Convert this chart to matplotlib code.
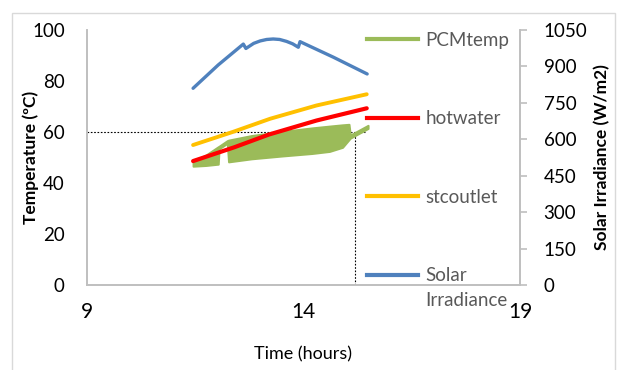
import matplotlib
matplotlib.use("Agg")
import matplotlib.pyplot as plt
from matplotlib.lines import Line2D
from matplotlib.patches import Rectangle

plt.rcParams["font.family"] = ["Lato", "DejaVu Sans"]

# --- data ---
solar_t = [11.45, 12.03, 12.61, 12.67, 12.85, 13.0, 13.15, 13.3, 13.45, 13.61, 13.75, 13.88, 13.92, 14.69, 15.47]
solar_w = [810, 906, 992, 974, 995, 1005, 1011, 1013, 1011, 1003, 993, 979, 1002, 938, 869]

stc_t = [11.45, 12.38, 13.23, 14.3, 15.46]
stc_temp = [54.9, 60.1, 65.2, 70.4, 74.8]

hot_t = [11.45, 12.4, 13.2, 14.3, 15.46]
hot_temp = [48.6, 54.0, 59.0, 64.5, 69.3]

# PCM temperature oscillates quickly, drawn as its envelope
pcm_t = [11.45, 11.75, 12.03, 12.05, 12.24, 12.27, 12.8, 13.5, 14.2, 14.6, 14.9, 15.05, 15.08, 15.49]
pcm_high = [48.4, 51.0, 54.2, 54.4, 56.6, 56.8, 58.6, 60.2, 61.6, 62.3, 62.8, 63.0, 58.8, 62.6]
pcm_low = [46.6, 46.9, 47.4, 53.4, 55.6, 48.3, 49.5, 50.6, 51.6, 52.4, 54.0, 57.0, 57.6, 61.4]

ref_temp = 60
ref_time = 15.2
ref_end = 15.42

x_ticks = [9, 14, 19]
temp_ticks = list(range(0, 101, 20))
solar_ticks = list(range(0, 1051, 150))

GREEN = "#9BBB59"
RED = "#FF0000"
ORANGE = "#FFC000"
BLUE = "#4F81BD"
GRID = "#BFBFBF"

fig = plt.figure(figsize=(6.17, 3.70), dpi=100)
ax = fig.add_axes([87 / 617, 1 - 285 / 370, (520 - 87) / 617, (285 - 30) / 370])
ax2 = ax.twinx()

# reference lines
ax.plot([9, ref_end], [ref_temp, ref_temp], color="black", lw=0.8, ls=(0, (1.5, 1.5)), zorder=1)
ax.plot([ref_time, ref_time], [0, ref_temp], color="black", lw=0.8, ls=(0, (1.5, 1.5)), zorder=1)

ax.fill_between(pcm_t, pcm_low, pcm_high, color=GREEN, lw=1.5, edgecolor=GREEN, zorder=2)
ax.plot(hot_t, hot_temp, color=RED, lw=3, solid_capstyle="round", zorder=3)
ax.plot(stc_t, stc_temp, color=ORANGE, lw=2.8, solid_capstyle="round", zorder=3)
ax2.plot(solar_t, solar_w, color=BLUE, lw=2.4, solid_capstyle="round")

ax.set_xlim(9, 19)
ax.set_ylim(0, 100)
ax2.set_ylim(0, 1050)
ax.set_xticks(x_ticks)
ax.set_yticks(temp_ticks)
ax2.set_yticks(solar_ticks)

for a in (ax, ax2):
    a.spines["top"].set_visible(False)
    for s in ("left", "right", "bottom"):
        a.spines[s].set_color(GRID)
        a.spines[s].set_linewidth(1.2)
ax.tick_params(axis="x", length=0, labelsize=15, pad=12)
ax.tick_params(axis="y", length=0, labelsize=13.5, pad=16)
ax2.tick_params(axis="y", length=5, width=1.2, color=GRID, labelsize=13.5, pad=12)
ax2.tick_params(axis="x", length=0)

ax.set_xlabel("Time (hours)", fontsize=13, labelpad=18)
ax.set_ylabel("Temperature (ºC)", fontsize=12.5, fontweight="bold", labelpad=-5)
ax2.set_ylabel("Solar Irradiance (W/m2)", fontsize=12.5, fontweight="bold", labelpad=5)

handles = [
    Line2D([], [], color=GREEN, lw=3),
    Line2D([], [], color=RED, lw=3),
    Line2D([], [], color=ORANGE, lw=3),
    Line2D([], [], color=BLUE, lw=3),
]
labels = ["PCMtemp", "hotwater", "stcoutlet", "Solar"]
leg = ax2.legend(handles, labels, loc="upper left", bbox_to_anchor=(0.647, 0.993),
                 frameon=False, fontsize=13.5, handlelength=2.7, handletextpad=0.4,
                 labelspacing=3.28, borderpad=0, borderaxespad=0)
for t in leg.get_texts():
    t.set_color("#595959")
ax2.text(0.781, -0.06, "Irradiance", transform=ax2.transAxes, fontsize=13.5,
         color="#595959", va="center", ha="left")

# chart border
fig.patches.append(Rectangle((12 / 617, -0.05), (615 - 12) / 617, 1 - 13 / 370 + 0.05,
                             transform=fig.transFigure, fill=False, edgecolor="#D9D9D9", lw=1))

fig.savefig("out.png", dpi=100)
